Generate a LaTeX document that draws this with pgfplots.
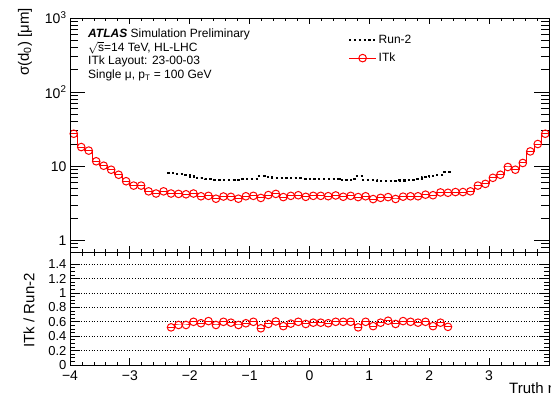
\documentclass[border=0pt]{standalone}
\usepackage{fontspec}
\setmainfont{Liberation Sans}
\usepackage{pgfplots}
\usepackage{pgfplotstable}
\pgfplotsset{compat=1.18}

\pgfplotstableread{
x y
-4.0 27.5
-3.9375 27.5
-3.8125 18.2
-3.6875 16.3
-3.5625 11.7
-3.4375 10.2
-3.3125 9.0
-3.1875 7.7
-3.0625 6.3
-2.9375 5.5
-2.8125 5.5
-2.6875 4.6
-2.5625 4.3
-2.4375 4.6
-2.3125 4.3
-2.1875 4.25
-2.0625 4.2
-1.9375 4.3
-1.8125 3.95
-1.6875 4.0
-1.5625 3.66
-1.4375 3.92
-1.3125 3.88
-1.1875 3.66
-1.0625 3.95
-0.9375 4.0
-0.8125 3.75
-0.6875 4.1
-0.5625 4.25
-0.4375 3.85
-0.3125 4.0
-0.1875 4.08
-0.0625 3.88
0.0625 4.0
0.1875 4.0
0.3125 3.96
0.4375 4.05
0.5625 3.89
0.6875 4.0
0.8125 3.85
0.9375 3.95
1.0625 3.62
1.1875 3.76
1.3125 3.85
1.4375 3.63
1.5625 3.9
1.6875 3.95
1.8125 3.95
1.9375 4.15
2.0625 4.08
2.1875 4.45
2.3125 4.4
2.4375 4.5
2.5625 4.5
2.6875 4.6
2.8125 5.5
2.9375 5.8
3.0625 7.0
3.1875 7.7
3.3125 9.8
3.4375 9.0
3.5625 11.1
3.6875 15.9
3.8125 20.0
3.9375 27.5
4.0 27.5
}\itk

\pgfplotstableread{
x y
-2.375 8.15
-2.3125 8.15
-2.1875 7.9
-2.0625 7.57
-1.9375 7.3
-1.8125 6.98
-1.6875 6.8
-1.5625 6.62
-1.4375 6.62
-1.3125 6.62
-1.1875 6.62
-1.0625 6.8
-0.9375 6.82
-0.8125 7.33
-0.6875 7.1
-0.5625 7.0
-0.4375 6.98
-0.3125 6.98
-0.1875 6.9
-0.0625 6.82
0.0625 6.82
0.1875 6.82
0.3125 6.82
0.4375 6.82
0.5625 6.48
0.6875 6.48
0.8125 7.33
0.9375 6.62
1.0625 6.62
1.1875 6.4
1.3125 6.35
1.4375 6.35
1.5625 6.45
1.6875 6.6
1.8125 6.82
1.9375 7.1
2.0625 7.5
2.1875 7.7
2.3125 8.3
2.375 8.3
}\runtwo

\pgfplotstableread{
x y
-2.375 0.523
-2.3125 0.523
-2.1875 0.556
-2.0625 0.556
-1.9375 0.60
-1.8125 0.58
-1.6875 0.61
-1.5625 0.556
-1.4375 0.60
-1.3125 0.588
-1.1875 0.556
-1.0625 0.58
-0.9375 0.60
-0.8125 0.51
-0.6875 0.57
-0.5625 0.605
-0.4375 0.54
-0.3125 0.575
-0.1875 0.60
-0.0625 0.57
0.0625 0.588
0.1875 0.588
0.3125 0.58
0.4375 0.60
0.5625 0.60
0.6875 0.60
0.8125 0.523
0.9375 0.60
1.0625 0.54
1.1875 0.588
1.3125 0.615
1.4375 0.57
1.5625 0.61
1.6875 0.60
1.8125 0.588
1.9375 0.60
2.0625 0.54
2.1875 0.588
2.3125 0.53
2.375 0.53
}\ratio

\begin{document}
\begin{tikzpicture}
\pgfplotsset{
  common/.style={scale only axis, width=479pt, xmin=-4, xmax=4,
    xtick={-4,...,4}, minor x tick num=4,
    axis line style={line width=0.9pt},
    tick style={black, line width=0.9pt},
    /pgf/number format/assume math mode=true,
    tick label style={font=\fontsize{14}{16}\selectfont},
    xtick pos=both, ytick pos=both},
  itkstyle/.style={red, line width=1pt},
}
% ---------------- top panel ----------------
\begin{axis}[common, at={(70pt,144pt)}, anchor=south west, height=234pt,
  ymode=log, ymin=0.7, ymax=1000,
  ytick={1,10,100,1000}, yticklabels={1,10,10\textsuperscript{2},10\textsuperscript{3}},
  minor ytick={0.8,0.9,2,3,4,5,6,7,8,9,20,30,40,50,60,70,80,90,200,300,400,500,600,700,800,900},
  xtick=\empty, major tick length=15pt, minor tick length=7.5pt,
  legend style={at={(0.580,0.934)}, anchor=north west, draw=none, fill=none,
    inner sep=0pt, row sep=5pt, nodes={inner sep=1.5pt, font=\fontsize{12}{14}\selectfont}},
  legend cell align=left,
  legend image code/.code={\draw[mark repeat=2,mark phase=2,#1] plot coordinates {(0pt,0pt) (13.5pt,0pt) (27pt,0pt)};},
]
\addlegendimage{black, line width=2.2pt, dash pattern=on 2.2pt off 2.6pt}
\addlegendentry{Run-2}
\addlegendimage{itkstyle, mark=o, mark size=3.8pt}
\addlegendentry{ITk}
\addplot[black, line width=2.2pt, dash pattern=on 2.2pt off 2.6pt, const plot mark mid, forget plot] table {\runtwo};
\addplot[itkstyle, const plot mark mid, forget plot] table {\itk};
\addplot[itkstyle, only marks, mark=o, mark size=3.8pt, restrict x to domain=-3.99:3.99, forget plot] table {\itk};
\end{axis}
\begin{axis}[common, at={(70pt,144pt)}, anchor=south west, height=234pt,
  ymin=0, ymax=1, ytick=\empty, xticklabels={}, major tick length=6pt, minor tick length=3pt]
\end{axis}
% ---------------- ratio panel ----------------
\begin{axis}[common, at={(70pt,31pt)}, anchor=south west, height=113pt,
  ymin=0, ymax=1.57,
  ytick={0,0.2,0.4,0.6,0.8,1,1.2,1.4}, yticklabels={0,0.2,0.4,0.6,0.8,1,1.2,1.4},
  minor y tick num=3,
  ymajorgrids, grid style={black, line width=0.7pt, dotted},
  xtick=\empty, major tick length=10pt, minor tick length=5pt,
  yticklabel style={font=\fontsize{13}{15}\selectfont},
]
\addplot[itkstyle, const plot mark mid] table {\ratio};
\addplot[itkstyle, only marks, mark=o, mark size=3.8pt, restrict x to domain=-2.36:2.36] table {\ratio};
\end{axis}
\begin{axis}[common, at={(70pt,31pt)}, anchor=south west, height=113pt,
  ymin=0, ymax=1, ytick=\empty,
  xticklabels={−4,−3,−2,−1,0,1,2,3,{}},
  xticklabel style={yshift=-2pt},
  major tick length=7pt, minor tick length=3.5pt]
\end{axis}
% ---------------- texts ----------------
\node[anchor=base west, inner sep=0pt, font=\fontsize{12}{14}\selectfont] at (88pt,358pt) {\textbf{\textit{ATLAS}} Simulation Preliminary};
\node[anchor=base west, inner sep=0pt, font=\fontsize{12}{14}\selectfont] at (88pt,344.5pt) {$\sqrt{\mbox{s}}$=14 TeV, HL-LHC};
\node[anchor=base west, inner sep=0pt, font=\fontsize{12}{14}\selectfont] at (88pt,331pt) {ITk Layout: 23-00-03};
\node[anchor=base west, inner sep=0pt, font=\fontsize{12}{14}\selectfont] at (88pt,317pt) {Single μ, p\textsubscript{T} = 100 GeV};
\node[rotate=90, anchor=east, inner sep=0pt, font=\fontsize{15}{17}\selectfont] at (25pt,388pt) {σ(d\textsubscript{0}) [μm]};
\node[rotate=90, anchor=east, inner sep=0pt, font=\fontsize{15}{17}\selectfont] at (29pt,123pt) {ITk / Run-2};
\node[anchor=base west, inner sep=0pt, font=\fontsize{15}{17}\selectfont] at (509pt,3pt) {Truth η};
\pgfresetboundingbox
\useasboundingbox (0pt,0pt) rectangle (551pt,396pt);
\end{tikzpicture}
\end{document}
